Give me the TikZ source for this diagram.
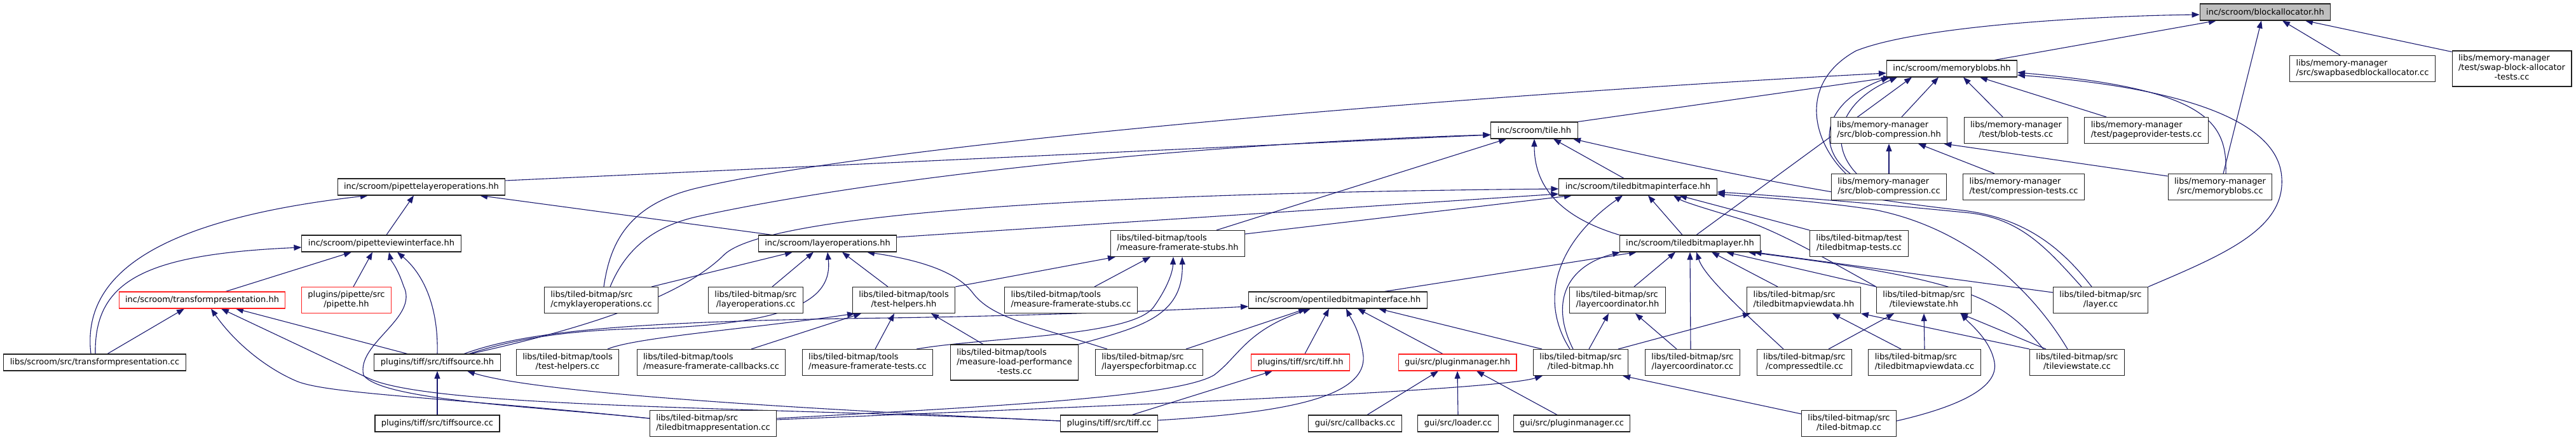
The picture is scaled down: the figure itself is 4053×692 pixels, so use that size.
\documentclass[tikz,border=0pt]{standalone}
\usepackage{fontspec}
\newfontfamily\dvs{DejaVu Sans}
\usetikzlibrary{arrows.meta}
\definecolor{edgec}{HTML}{191970}
\definecolor{redb}{HTML}{FF2020}
\definecolor{grayf}{HTML}{BFBFBF}
\definecolor{borderc}{HTML}{202020}
\newcommand{\twol}[2]{\begin{tabular}{@{}l@{}}#1\\\multicolumn{1}{@{}c@{}}{#2}\end{tabular}}
\newcommand{\threel}[3]{\begin{tabular}{@{}l@{}}#1\\#2\\\multicolumn{1}{@{}c@{}}{#3}\end{tabular}}
\pgfdeclarelayer{bgl}
\pgfdeclarelayer{edges}
\pgfsetlayers{bgl,edges,main}
\tikzset{
  box/.style={draw=borderc, line width=1.05pt, fill=white, inner xsep=10pt, inner ysep=5.5pt,
    minimum height=26pt, font=\dvs\fontsize{13}{15}\selectfont},
  redbox/.style={box, draw=redb},
  graybox/.style={box, fill=grayf},
  e/.style={draw=edgec, line width=1.1pt, -{Triangle[length=12pt,width=9pt]}}
}
\begin{document}
\begin{tikzpicture}[x=1pt,y=-1pt]
\begin{pgfonlayer}{bgl}
\fill[white] (0,0) rectangle (4053,692);
\end{pgfonlayer}
\useasboundingbox (0,0) rectangle (4053,692);
% nodes
\node[graybox] (ba) at (3564,19) {inc/scroom/blockallocator.hh};
\node[box] (mbh) at (3071,108) {inc/scroom/memoryblobs.hh};
\node[box] (swap) at (3717,108) {\twol{libs/memory-manager}{/src/swapbasedblockallocator.cc}};
\node[box] (swt) at (3952,108) {\threel{libs/memory-manager}{/test/swap-block-allocator}{-tests.cc}};
\node[box] (tile) at (2414,205) {inc/scroom/tile.hh};
\node[box] (bch) at (2972,205) {\twol{libs/memory-manager}{/src/blob-compression.hh}};
\node[box] (bt) at (3172,205) {\twol{libs/memory-manager}{/test/blob-tests.cc}};
\node[box] (ppt) at (3377,205) {\twol{libs/memory-manager}{/test/pageprovider-tests.cc}};
\node[box] (bcc) at (2972,294) {\twol{libs/memory-manager}{/src/blob-compression.cc}};
\node[box] (ct) at (3184,294) {\twol{libs/memory-manager}{/test/compression-tests.cc}};
\node[box] (mbc) at (3493,294) {\twol{libs/memory-manager}{/src/memoryblobs.cc}};
\node[box] (plo) at (663,294) {inc/scroom/pipettelayeroperations.hh};
\node[box] (tbi) at (2577,294) {inc/scroom/tiledbitmapinterface.hh};
\node[box] (pvi) at (600,383) {inc/scroom/pipetteviewinterface.hh};
\node[box] (lo) at (1302,383) {inc/scroom/layeroperations.hh};
\node[box] (mfsh) at (1853,383) {\twol{libs/tiled-bitmap/tools}{/measure-framerate-stubs.hh}};
\node[box] (tbl) at (2659,383) {inc/scroom/tiledbitmaplayer.hh};
\node[box] (tbt) at (2925,383) {\twol{libs/tiled-bitmap/test}{/tiledbitmap-tests.cc}};
\node[redbox] (tph) at (318,472) {inc/scroom/transformpresentation.hh};
\node[redbox] (pip) at (545,472) {\twol{plugins/pipette/src}{/pipette.hh}};
\node[box] (cmyk) at (946,472) {\twol{libs/tiled-bitmap/src}{/cmyklayeroperations.cc}};
\node[box] (loc) at (1189,472) {\twol{libs/tiled-bitmap/src}{/layeroperations.cc}};
\node[box] (thh) at (1422,472) {\twol{libs/tiled-bitmap/tools}{/test-helpers.hh}};
\node[box] (mfsc) at (1685,472) {\twol{libs/tiled-bitmap/tools}{/measure-framerate-stubs.cc}};
\node[box] (otbi) at (2105,472) {inc/scroom/opentiledbitmapinterface.hh};
\node[box] (lch) at (2545,472) {\twol{libs/tiled-bitmap/src}{/layercoordinator.hh}};
\node[box] (vdh) at (2838,472) {\twol{libs/tiled-bitmap/src}{/tiledbitmapviewdata.hh}};
\node[box] (tvsh) at (3027,472) {\twol{libs/tiled-bitmap/src}{/tileviewstate.hh}};
\node[box] (layer) at (3305,472) {\twol{libs/tiled-bitmap/src}{/layer.cc}};
\node[box] (tpc) at (149,570) {libs/scroom/src/transformpresentation.cc};
\node[box] (tsh) at (688,570) {plugins/tiff/src/tiffsource.hh};
\node[box] (thc) at (893,570) {\twol{libs/tiled-bitmap/tools}{/test-helpers.cc}};
\node[box] (mfcb) at (1119,570) {\twol{libs/tiled-bitmap/tools}{/measure-framerate-callbacks.cc}};
\node[box] (mft) at (1365,570) {\twol{libs/tiled-bitmap/tools}{/measure-framerate-tests.cc}};
\node[box] (mlp) at (1596,570) {\threel{libs/tiled-bitmap/tools}{/measure-load-performance}{-tests.cc}};
\node[box] (lsb) at (1808,570) {\twol{libs/tiled-bitmap/src}{/layerspecforbitmap.cc}};
\node[redbox] (tiffh) at (2046,570) {plugins/tiff/src/tiff.hh};
\node[redbox] (pmh) at (2293,570) {gui/src/pluginmanager.hh};
\node[box] (tbh) at (2487,570) {\twol{libs/tiled-bitmap/src}{/tiled-bitmap.hh}};
\node[box] (lcc) at (2663,570) {\twol{libs/tiled-bitmap/src}{/layercoordinator.cc}};
\node[box] (ctc) at (2839,570) {\twol{libs/tiled-bitmap/src}{/compressedtile.cc}};
\node[box] (vdc) at (3028,570) {\twol{libs/tiled-bitmap/src}{/tiledbitmapviewdata.cc}};
\node[box] (tvsc) at (3268,570) {\twol{libs/tiled-bitmap/src}{/tileviewstate.cc}};
\node[box] (tsc) at (688,666) {plugins/tiff/src/tiffsource.cc};
\node[box] (tbp) at (1122,666) {\twol{libs/tiled-bitmap/src}{/tiledbitmappresentation.cc}};
\node[box] (tiffc) at (1745,666) {plugins/tiff/src/tiff.cc};
\node[box] (cb) at (2132,666) {gui/src/callbacks.cc};
\node[box] (ld) at (2294,666) {gui/src/loader.cc};
\node[box] (pmc) at (2473,666) {gui/src/pluginmanager.cc};
\node[box] (tbc) at (2909,666) {\twol{libs/tiled-bitmap/src}{/tiled-bitmap.cc}};
% edges
\begin{pgfonlayer}{edges}
\draw[e] ([xshift=67pt]mbh.north) -- ([xshift=-77pt]ba.south);
\draw[e] ([xshift=5pt]mbc.north) -- ([xshift=-6pt]ba.south);
\draw[e] ([xshift=-35pt]swap.north) -- ([xshift=27pt]ba.south);
\draw[e] ([yshift=-2pt]swt.north west) -- ([xshift=63pt]ba.south);
\draw[e] ([xshift=-68pt]bcc.north) .. controls (2850,220) and (2830,130) .. (2920,80) .. controls (3020,40) and (3300,25) .. ([yshift=-4pt]ba.west);
\draw[e] ([xshift=-61pt]bcc.north) .. controls (2855,230) and (2870,160) .. ([xshift=-99pt]mbh.south);
\draw[e] ([xshift=-51pt]bcc.north) .. controls (2875,225) and (2895,160) .. ([xshift=-86pt]mbh.south);
\draw[e] (tile.north east) -- ([xshift=-96pt]mbh.south);
\draw[e] ([xshift=10pt]tbl.north) -- ([xshift=-63pt]mbh.south);
\draw[e] ([xshift=20pt]bch.north) -- ([xshift=-21pt]mbh.south);
\draw[e] ([xshift=-21pt]bt.north) -- ([xshift=18pt]mbh.south);
\draw[e] ([xshift=-63pt]ppt.north) -- ([xshift=44pt]mbh.south);
\draw[e] ([xshift=9pt]mbc.north) .. controls (3505,190) and (3470,140) .. ([yshift=-6pt]mbh.east);
\draw[e] (layer.north east) .. controls (3500,400) and (3595,360) .. (3590,280) .. controls (3585,180) and (3400,135) .. ([yshift=-10pt]mbh.east);
\draw[e] (bcc.north) -- (bch.south);
\draw[e] ([xshift=-46pt]ct.north) -- ([xshift=46pt]bch.south);
\draw[e] ([yshift=-4pt]mbc.north west) -- ([xshift=-6pt]bch.south east);
\draw[e] ([xshift=4pt]cmyk.north) .. controls (960,380) and (990,320) .. (1100,295) .. controls (1400,225) and (2300,150) .. ([yshift=-7pt]mbh.west);
\draw[e] ([xshift=14pt]cmyk.north) .. controls (985,390) and (1030,355) .. (1100,340) .. controls (1400,275) and (1900,225) .. ([yshift=-7pt]tile.west);
\draw[e] ([yshift=10pt]plo.east) -- ([yshift=-7pt]tile.west);
\draw[e] ([xshift=8pt]pvi.north) -- ([xshift=-12pt]plo.south);
\draw[e] ([xshift=-6pt]tpc.north) .. controls (128,430) and (250,345) .. ([xshift=-84pt]plo.south);
\draw[e] ([xshift=1pt]tpc.north) .. controls (148,440) and (230,400) .. ([yshift=-6pt]pvi.west);
\draw[e] ([xshift=37pt]tph.north) -- ([xshift=-47pt]pvi.south);
\draw[e] ([xshift=11pt]pip.north) -- ([xshift=-14pt]pvi.south);
\draw[e] ([yshift=8pt]tbp.west) .. controls (850,640) and (600,630) .. (572,590) .. controls (560,540) and (660,500) .. (635,450) .. controls (625,420) and (615,410) .. ([xshift=12pt]pvi.south);
\draw[e] (tsh.north) .. controls (690,480) and (665,430) .. ([xshift=25pt]pvi.south);
\draw[e] ([xshift=20pt]tpc.north) -- ([xshift=-28pt]tph.south);
\draw[e] ([xshift=-47pt]tsh.north) -- ([xshift=53pt]tph.south);
\draw[e] ([yshift=4pt]tiffc.west) .. controls (1200,640) and (680,642) .. (580,595) -- ([xshift=30pt]tph.south);
\draw[e] ([yshift=8pt]tbp.west) .. controls (700,625) and (520,620) .. (468,600) .. controls (420,580) and (370,540) .. ([xshift=14pt]tph.south);
\draw[e] (tsc.north) -- (tsh.south);
\draw[e] ([yshift=4pt]tiffc.west) .. controls (1300,645) and (850,620) .. ([xshift=47pt]tsh.south);
\draw[e] ([xshift=50pt]tsh.north) .. controls (820,530) and (900,520) .. (1000,517) .. controls (1250,512) and (1310,470) .. (lo.south);
\draw[e] ([xshift=52pt]tsh.north) .. controls (950,510) and (1080,460) .. (1140,400) .. controls (1200,345) and (1600,305) .. ([yshift=-3pt]tbi.west);
\draw[e] ([xshift=42pt]tsh.north) .. controls (830,520) and (1000,505) .. (1400,500) .. controls (1600,497) and (1800,490) .. ([yshift=-10pt]otbi.west);
\draw[e] ([xshift=63pt]thc.north) .. controls (1000,530) and (1200,515) .. ([xshift=-77pt]thh.south);
\draw[e] ([xshift=63pt]mfcb.north) -- ([xshift=-67pt]thh.south);
\draw[e] ([xshift=12pt]mft.north) -- ([xshift=-15pt]thh.south);
\draw[e] ([xshift=-49pt]mlp.north) -- ([xshift=43pt]thh.south);
\draw[e] ([xshift=-25pt]thh.north) -- ([xshift=23pt]lo.south);
\draw[e] (thh.north east) -- ([xshift=-98pt]mfsh.south);
\draw[e] ([xshift=37pt]mfsc.north) -- ([xshift=-43pt]mfsh.south);
\draw[e] ([xshift=77pt]mft.north) .. controls (1550,530) and (1780,530) .. (1815,483) .. controls (1835,455) and (1845,430) .. ([xshift=-7pt]mfsh.south);
\draw[e] (mlp.north east) .. controls (1790,515) and (1862,500) .. ([xshift=7pt]mfsh.south);
\draw[e] ([xshift=26pt]loc.north) -- ([xshift=-22pt]lo.south);
\draw[e] ([xshift=-11pt]cmyk.north east) -- ([xshift=-55pt]lo.south);
\draw[e] ([xshift=-66pt]lsb.north) .. controls (1620,510) and (1560,500) .. (1530,460) .. controls (1500,420) and (1420,405) .. ([xshift=62pt]lo.south);
\draw[e] ([xshift=58pt]lsb.north) -- ([xshift=-50pt]otbi.south);
\draw[e] ([xshift=-87pt]lo.north) -- ([xshift=92pt]plo.south);
\draw[e] ([yshift=10pt]lo.east) -- ([yshift=-11pt]tbi.west);
\draw[e] ([xshift=61pt]mfsh.north) -- ([xshift=-44pt]tile.south);
\draw[e] ([yshift=15pt]mfsh.east) -- ([xshift=-104pt]tbi.south);
\draw[e] ([xshift=-22pt]tbi.north) -- ([xshift=30pt]tile.south);
\draw[e] (tbl.north west) .. controls (2450,340) and (2414,290) .. (tile.south);
\draw[e] ([xshift=-14pt]layer.north) .. controls (3240,385) and (3180,340) .. (3080,330) .. controls (2900,310) and (2700,270) .. ([xshift=61pt]tile.south);
\draw[e] ([xshift=-30pt]layer.north) .. controls (3220,390) and (3180,345) .. (3100,335) .. controls (2950,320) and (2800,308) .. ([yshift=-8pt]tbi.east);
\draw[e] ([xshift=-15pt]tvsc.north) .. controls (3200,460) and (3100,360) .. (2950,330) .. controls (2850,315) and (2760,310) .. ([yshift=-11pt]tbi.east);
\draw[e] (tvsh.north west) .. controls (2860,400) and (2800,365) .. (2740,345) .. controls (2690,330) and (2650,318) .. ([xshift=56pt]tbi.south);
\draw[e] (tbt.north west) -- ([xshift=65pt]tbi.south);
\draw[e] ([xshift=-12pt]tbl.north) -- ([xshift=16pt]tbi.south);
\draw[e] ([xshift=-17pt]tbh.north) .. controls (2420,470) and (2450,380) .. ([xshift=-24pt]tbi.south);
\draw[e] ([xshift=-12pt]tbh.north) .. controls (2440,480) and (2460,420) .. ([xshift=-110pt]tbl.south);
\draw[e] ([xshift=73pt]otbi.north) -- ([xshift=-84pt]tbl.south);
\draw[e] ([xshift=26pt]lch.north) -- ([xshift=-23pt]tbl.south);
\draw[e] ([xshift=-3pt]lcc.north) -- (tbl.south);
\draw[e] ([xshift=-33pt]ctc.north) .. controls (2720,470) and (2680,430) .. ([xshift=10pt]tbl.south);
\draw[e] ([xshift=-41pt]vdh.north) -- ([xshift=34pt]tbl.south);
\draw[e] (tvsh.north west) -- ([xshift=57pt]tbl.south);
\draw[e] ([yshift=12pt]layer.west) -- ([xshift=-11pt]tbl.south east);
\draw[e] ([xshift=-53pt]tvsc.north) .. controls (3150,470) and (3100,440) .. ([xshift=-20pt]tbl.south east);
\draw[e] ([xshift=7pt]tiffh.north) -- ([xshift=-14pt]otbi.south);
\draw[e] ([xshift=-23pt]pmh.north) -- ([xshift=31pt]otbi.south);
\draw[e] ([xshift=-61pt]tbh.north) -- ([xshift=64pt]otbi.south);
\draw[e] ([yshift=8pt]tbp.east) .. controls (1550,640) and (1850,625) .. (1910,590) .. controls (1950,560) and (1960,520) .. ([xshift=-43pt]otbi.south);
\draw[e] ([yshift=5pt]tiffc.east) .. controls (2000,650) and (2150,630) .. (2145,560) .. controls (2140,520) and (2125,500) .. ([xshift=13pt]otbi.south);
\draw[e] ([xshift=36pt]tiffc.north) -- ([xshift=-44pt]tiffh.south);
\draw[e] ([yshift=6pt]tbp.east) .. controls (1700,640) and (2350,615) .. ([xshift=-60pt]tbh.south);
\draw[e] ([xshift=19pt]cb.north) -- ([xshift=-30pt]pmh.south);
\draw[e] (ld.north) -- (pmh.south);
\draw[e] ([xshift=-23pt]pmc.north) -- ([xshift=30pt]pmh.south);
\draw[e] ([xshift=13pt]tbh.north) -- ([xshift=-14pt]lch.south);
\draw[e] ([xshift=-25pt]lcc.north) -- ([xshift=28pt]lch.south);
\draw[e] ([xshift=59pt]tbh.north) -- ([xshift=-84pt]vdh.south);
\draw[e] ([yshift=-6pt]tbc.north west) -- ([xshift=66pt]tbh.south);
\draw[e] ([yshift=4pt]tbc.east) .. controls (3080,640) and (3145,610) .. (3138,570) .. controls (3132,535) and (3100,510) .. ([xshift=58pt]tvsh.south);
\draw[e] ([xshift=38pt]ctc.north) -- ([xshift=-47pt]tvsh.south);
\draw[e] (vdc.north) -- (tvsh.south);
\draw[e] ([xshift=-49pt]tvsc.north) -- ([xshift=57pt]tvsh.south);
\draw[e] ([xshift=-37pt]vdc.north) -- ([xshift=45pt]vdh.south);
\draw[e] (tvsc.north west) -- (vdh.south east);
\end{pgfonlayer}
\end{tikzpicture}
\end{document}
